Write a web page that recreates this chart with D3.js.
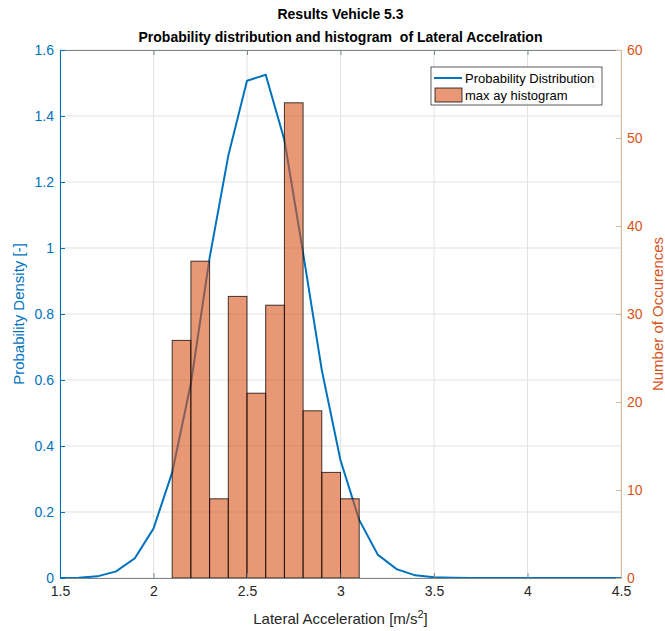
<!DOCTYPE html>
<html>
<head>
<meta charset="utf-8">
<script src="https://cdn.jsdelivr.net/npm/d3@7"></script>
<style>
  body { margin: 0; background: #fff; }
  text { font-family: "Liberation Sans", Arial, sans-serif; }
</style>
</head>
<body>
<svg id="chart" width="665" height="631"></svg>
<script>
// probability distribution (left axis)
const pdfX = [1.5, 1.6, 1.7, 1.8, 1.9, 2.0, 2.1, 2.2, 2.3, 2.4, 2.5, 2.6, 2.7, 2.8, 2.9, 3.0,
    3.1, 3.2, 3.3, 3.4, 3.5, 3.6, 3.7, 3.8, 3.9, 4.0, 4.1, 4.2, 4.3, 4.4, 4.5]
const pdfY = [0, 0.001, 0.005, 0.02, 0.06, 0.15, 0.32, 0.59, 0.97, 1.28, 1.507, 1.525, 1.327, 0.985, 0.63, 0.357,
    0.176, 0.07, 0.027, 0.008, 0.002, 0.001, 0, 0, 0, 0, 0, 0, 0, 0, 0]

// histogram (right axis)
const binEdges = [2.1, 2.2, 2.3, 2.4, 2.5, 2.6, 2.7, 2.8, 2.9, 3.0, 3.1]
const binCounts = [27, 36, 9, 32, 21, 31, 54, 19, 12, 9]

const xTicks = [1.5, 2, 2.5, 3, 3.5, 4, 4.5]
const yLeftTicks = [0, 0.2, 0.4, 0.6, 0.8, 1, 1.2, 1.4, 1.6]
const yRightTicks = [0, 10, 20, 30, 40, 50, 60]

const blue = '#0072BD'
const orange = '#D95319'
const barFill = 'rgb(217,83,25)'

const svg = d3.select('#chart')
const margin = { top: 50, right: 44, bottom: 53, left: 60 }
const w = 665, h = 631
const width = w - margin.left - margin.right
const height = h - margin.top - margin.bottom

const x = d3.scaleLinear().domain([1.5, 4.5]).range([0, width])
const yL = d3.scaleLinear().domain([0, 1.6]).range([height, 0])
const yR = d3.scaleLinear().domain([0, 60]).range([height, 0])

const chart = svg.append('g')
    .attr('transform', `translate(${margin.left}, ${margin.top})`)

// grid
chart.append('g')
    .selectAll('line.gx')
    .data(xTicks)
    .join('line')
    .attr('x1', d => x(d)).attr('x2', d => x(d))
    .attr('y1', 0).attr('y2', height)
    .attr('stroke', '#e3e3e3')
chart.append('g')
    .selectAll('line.gy')
    .data(yLeftTicks)
    .join('line')
    .attr('y1', d => yL(d)).attr('y2', d => yL(d))
    .attr('x1', 0).attr('x2', width)
    .attr('stroke', '#e3e3e3')

// distribution line
const pdfData = pdfX.map((v, i) => ({ x: v, y: pdfY[i] }))
const pdfLine = d3.line().x(d => x(d.x)).y(d => yL(d.y))
chart.append('path')
    .datum(pdfData)
    .attr('d', pdfLine)
    .attr('fill', 'none')
    .attr('stroke', blue)
    .attr('stroke-width', 2)

// histogram bars
const bins = binCounts.map((c, i) => ({ x0: binEdges[i], x1: binEdges[i + 1], n: c }))
chart.append('g')
    .selectAll('rect')
    .data(bins)
    .join('rect')
    .attr('x', d => x(d.x0))
    .attr('width', d => x(d.x1) - x(d.x0))
    .attr('y', d => yR(d.n))
    .attr('height', d => yR(0) - yR(d.n))
    .attr('fill', barFill)
    .attr('fill-opacity', 0.6)
    .attr('stroke', '#000')
    .attr('stroke-opacity', 0.75)
    .attr('stroke-width', 1)

// axes
const xAxis = d3.axisBottom(x).tickValues(xTicks).tickFormat(d3.format('')).tickSize(-5).tickPadding(8)
const xTop = d3.axisTop(x).tickValues(xTicks).tickFormat('').tickSize(-5)
const yAxisL = d3.axisLeft(yL).tickValues(yLeftTicks).tickFormat(d3.format('')).tickSize(-5).tickPadding(6)
const yAxisR = d3.axisRight(yR).tickValues(yRightTicks).tickSize(-5).tickPadding(6)

const gx = chart.append('g')
    .attr('transform', `translate(0, ${height})`)
    .call(xAxis)
gx.select('.domain').attr('stroke', '#7d8688')
gx.selectAll('.tick line').attr('stroke', '#7d8688')
gx.selectAll('.tick text').attr('fill', '#262626').style('font-size', '14px')

const gt = chart.append('g').call(xTop)
gt.select('.domain').attr('stroke', '#7d8688')
gt.selectAll('.tick line').attr('stroke', '#7d8688')

const gl = chart.append('g').call(yAxisL)
gl.selectAll('.domain, .tick line').attr('stroke', blue)
gl.selectAll('.tick text').attr('fill', blue).style('font-size', '14px')

const gr = chart.append('g')
    .attr('transform', `translate(${width}, 0)`)
    .call(yAxisR)
gr.selectAll('.domain, .tick line').attr('stroke', '#d8b89a')
gr.selectAll('.tick text').attr('fill', orange).style('font-size', '14px')

// axis labels
chart.append('text')
    .attr('transform', 'rotate(-90)')
    .attr('x', -height / 2)
    .attr('y', -36)
    .style('text-anchor', 'middle')
    .style('font-size', '15px')
    .attr('fill', blue)
    .text('Probability Density [-]')

chart.append('text')
    .attr('transform', 'rotate(-90)')
    .attr('x', -height / 2)
    .attr('y', width + 42)
    .style('text-anchor', 'middle')
    .style('font-size', '15px')
    .attr('fill', orange)
    .text('Number of Occurences')

const xl = chart.append('text')
    .attr('x', width / 2)
    .attr('y', height + 46)
    .style('text-anchor', 'middle')
    .style('font-size', '15px')
    .attr('fill', '#262626')
xl.append('tspan').text('Lateral Acceleration [m/s')
xl.append('tspan').attr('dy', -6).style('font-size', '11px').text('2')
xl.append('tspan').attr('dy', 6).text(']')

// title
svg.append('text')
    .attr('x', margin.left + width / 2)
    .attr('y', 19)
    .style('text-anchor', 'middle')
    .style('font-size', '14px')
    .style('font-weight', 'bold')
    .attr('fill', '#000')
    .text('Results Vehicle 5.3')
svg.append('text')
    .attr('x', margin.left + width / 2)
    .attr('y', 42)
    .style('text-anchor', 'middle')
    .style('font-size', '14px')
    .style('font-weight', 'bold')
    .attr('fill', '#000')
    .text('Probability distribution and histogram  of Lateral Accelration')
    .attr('xml:space', 'preserve')
    .style('white-space', 'pre')

// legend
const lg = svg.append('g').attr('transform', 'translate(431, 67)')
lg.append('rect')
    .attr('width', 171).attr('height', 38)
    .attr('fill', '#fff').attr('stroke', '#333').attr('stroke-width', 0.8)
lg.append('line')
    .attr('x1', 3).attr('x2', 31).attr('y1', 11).attr('y2', 11)
    .attr('stroke', blue).attr('stroke-width', 2)
lg.append('text')
    .attr('x', 34).attr('y', 15.5)
    .style('font-size', '13px').attr('fill', '#000')
    .text('Probability Distribution')
lg.append('rect')
    .attr('x', 4).attr('y', 21).attr('width', 27).attr('height', 14)
    .attr('fill', barFill).attr('fill-opacity', 0.6)
    .attr('stroke', '#000').attr('stroke-opacity', 0.75)
lg.append('text')
    .attr('x', 34).attr('y', 32.5)
    .style('font-size', '13px').attr('fill', '#000')
    .text('max ay histogram')
</script>
</body>
</html>
